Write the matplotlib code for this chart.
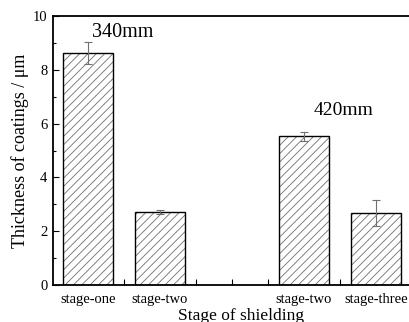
import matplotlib.pyplot as plt
import numpy as np

plt.rcParams['font.family'] = ['Liberation Serif', 'DejaVu Serif']
plt.rcParams['hatch.linewidth'] = 0.6

# bar data
positions = [0, 2, 6, 8]
labels = ['stage-one', 'stage-two', 'stage-two', 'stage-three']
thickness = [8.62, 2.71, 5.53, 2.67]
errors = [0.42, 0.07, 0.17, 0.48]
yticks = [0, 2, 4, 6, 8, 10]

fig = plt.figure(figsize=(4.09, 3.22), dpi=100)
ax = fig.add_axes([53/409, 1 - 285/322, 377/409, 269/322])

# hatch layer in gray, then black outline on top
ax.bar(positions, thickness, width=1.4, color='white', edgecolor='#707070',
       hatch='////', linewidth=0, zorder=2)
ax.bar(positions, thickness, width=1.4, color='none', edgecolor='black',
       linewidth=1.0, zorder=3)
ax.errorbar(positions, thickness, yerr=errors, fmt='none', ecolor='#707070',
            elinewidth=0.8, capsize=3, capthick=0.8, zorder=4)

ax.set_xlim(-0.97, 9.5)
ax.set_ylim(0, 10)
ax.set_xticks(range(0, 10))
ax.set_xticklabels([labels[positions.index(i)] if i in positions else '' for i in range(0, 10)])
ax.set_yticks(yticks)
ax.set_yticks([1, 3, 5, 7, 9], minor=True)

ax.tick_params(axis='both', which='major', direction='in', length=4, width=0.8,
               labelsize=10.5, pad=6)
ax.tick_params(axis='y', which='minor', direction='in', length=2.5, width=0.8)
ax.tick_params(axis='y', pad=4)

for s in ['left', 'top', 'bottom', 'right']:
    ax.spines[s].set_linewidth(1.3)

ax.set_ylabel('Thickness of coatings / \u03bcm', fontsize=13, labelpad=3)
ax.set_xlabel('Stage of shielding', fontsize=12.5, labelpad=1)

ax.text(0.97, 9.4, '340mm', fontsize=14.5, ha='center', va='center')
ax.text(7.1, 6.5, '420mm', fontsize=14, ha='center', va='center')

fig.savefig('out.png', dpi=100)
